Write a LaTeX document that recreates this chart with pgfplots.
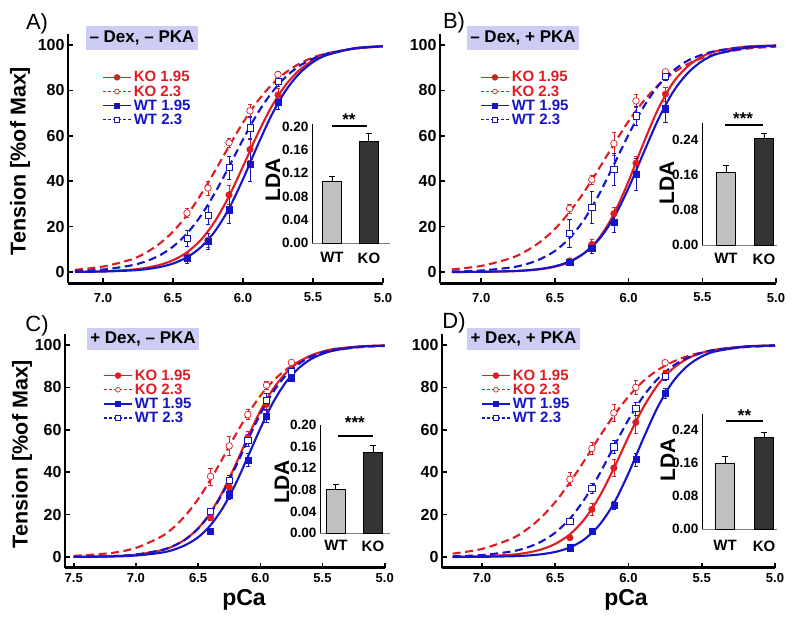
\documentclass[border=0pt]{standalone}
\usepackage{fontspec}
\setmainfont{Liberation Sans}
\usepackage{pgfplots}
\pgfplotsset{compat=1.18}
\definecolor{rr}{RGB}{222,28,36}
\definecolor{bb}{RGB}{20,20,200}
\definecolor{lav}{RGB}{204,204,245}
\definecolor{wtg}{RGB}{192,192,192}
\definecolor{kod}{RGB}{52,52,52}
\newcommand{\fs}[1]{\fontsize{#1}{#1}\selectfont}
\newcommand{\legfont}{\fontsize{15}{15}\selectfont\bfseries}
\pgfplotsset{
  /pgf/number format/assume math mode=true,
  mainax/.style={scale only axis, anchor=south west, x dir=reverse, xmin=5.0, ymin=-5, ymax=105,
    axis x line*=bottom, axis y line*=left, axis line style={line width=2.4pt, black},
    tick align=inside, major tick length=5pt, tick style={line width=1.6pt, black},
    ytick={0,20,40,60,80,100}, xtick={5,5.5,6,6.5,7,7.5},
    yticklabel style={font=\bfseries\fs{16}},
    xticklabel style={font=\bfseries\fs{13}, /pgf/number format/fixed, /pgf/number format/fixed zerofill, /pgf/number format/precision=1},
    legend cell align=left,
    legend image code/.code={\draw[mark repeat=2,mark phase=2] plot coordinates {(0pt,0pt)(14pt,0pt)(28pt,0pt)};},
    legend style={draw=none, fill=none, anchor=north west, font=\legfont, row sep=2.2pt, inner sep=0pt, nodes={inner ysep=0pt, inner xsep=2pt, font=\legfont}},
  },
  c1/.style={rr, line width=2.1pt, smooth, no markers, forget plot},
  c2/.style={rr, line width=2.1pt, smooth, no markers, forget plot, dash pattern=on 8pt off 4.5pt},
  c3/.style={bb, line width=2.1pt, smooth, no markers, forget plot},
  c4/.style={bb, line width=2.1pt, smooth, no markers, forget plot, dash pattern=on 8pt off 4.5pt},
  eb/.style={error bars/.cd, y dir=both, y explicit, error bar style={line width=0.7pt}, error mark options={rotate=90, mark size=2.2pt, line width=0.7pt}},
  p1/.style={rr, only marks, mark=*, mark size=3.3pt, mark options={fill=rr}, forget plot, eb},
  p2/.style={rr, only marks, mark=*, mark size=3.3pt, mark options={fill=white, line width=0.7pt}, forget plot, eb},
  p3/.style={bb, only marks, mark=square*, mark size=3.1pt, mark options={fill=bb}, forget plot, eb},
  p4/.style={bb, only marks, mark=square*, mark size=3.1pt, mark options={fill=white, line width=0.7pt}, forget plot, eb},
  l1/.style={rr, line width=1.6pt, mark=*, mark size=2.4pt, mark options={solid, fill=rr}},
  l2/.style={rr, line width=1.2pt, dash pattern=on 3pt off 2pt, mark=*, mark size=2.4pt, mark options={solid, fill=white, line width=0.7pt}},
  l3/.style={bb, line width=1.6pt, mark=square*, mark size=2.3pt, mark options={solid, fill=bb}},
  l4/.style={bb, line width=1.2pt, dash pattern=on 3pt off 2pt, mark=square*, mark size=2.3pt, mark options={solid, fill=white, line width=0.7pt}},
  inset/.style={scale only axis, anchor=south west, ymin=0, clip=false,
    axis x line*=bottom, axis y line*=left,
    x axis line style={line width=0.6pt, gray}, y axis line style={line width=0.9pt, black},
    major tick length=0pt, xtick={1,2}, xticklabels={WT,KO},
    xticklabel style={font=\bfseries\fs{15}},
    yticklabel style={font=\bfseries\fs{13.5}, /pgf/number format/fixed, /pgf/number format/fixed zerofill, /pgf/number format/precision=2}},
  wtbar/.style={ybar, bar width=19pt, bar shift=0pt, fill=wtg, draw=black, line width=0.6pt,
    error bars/.cd, y dir=plus, y explicit, error bar style={black, line width=0.9pt}, error mark options={rotate=90, mark size=3pt, black, line width=0.9pt}},
  kobar/.style={ybar, bar width=19pt, bar shift=0pt, fill=kod, draw=black, line width=0.6pt,
    error bars/.cd, y dir=plus, y explicit, error bar style={black, line width=0.9pt}, error mark options={rotate=90, mark size=3pt, black, line width=0.9pt}},
}
\newcommand{\mylegend}{%
  \addlegendimage{l1}\addlegendentry{\textcolor{rr}{\legfont KO 1.95}}
  \addlegendimage{l2}\addlegendentry{\textcolor{rr}{\legfont KO 2.3}}
  \addlegendimage{l3}\addlegendentry{\textcolor{bb}{\legfont WT 1.95}}
  \addlegendimage{l4}\addlegendentry{\textcolor{bb}{\legfont WT 2.3}}
}
\begin{document}
\begin{tikzpicture}
\path[use as bounding box] (0pt,0pt) rectangle (800pt,-625pt);

% ================= Panel A =================
\begin{axis}[mainax, at={(68pt,-283.4pt)}, width=315pt, height=249.7pt, xmax=7.25,
  xticklabel style={yshift=-6pt}, legend style={at={(0.108,0.85)}}]
\addplot[c1] coordinates {(7.2,0.11)(7.0,0.35)(6.8,1.03)(6.7,1.8)(6.6,3.07)(6.5,5.2)(6.4,8.7)(6.3,14.2)(6.2,22.4)(6.1,33.4)(6.0,46.5)(5.9,60.2)(5.8,72.4)(5.7,82.0)(5.6,88.8)(5.5,93.2)(5.4,96.0)(5.2,98.6)(5.0,99.5)};
\addplot[c2] coordinates {(7.2,1.0)(7.0,2.4)(6.8,5.5)(6.7,8.3)(6.6,12.3)(6.5,17.8)(6.4,25.1)(6.3,34.2)(6.2,44.6)(6.1,55.4)(6.0,65.8)(5.9,74.9)(5.8,82.2)(5.7,87.7)(5.6,91.7)(5.5,94.5)(5.4,96.4)(5.2,98.4)(5.0,99.4)};
\addplot[c3] coordinates {(7.2,0.07)(7.0,0.22)(6.8,0.69)(6.7,1.21)(6.6,2.14)(6.5,3.75)(6.4,6.5)(6.3,11.0)(6.2,18.0)(6.1,28.0)(6.0,40.9)(5.9,55.2)(5.8,68.6)(5.7,79.5)(5.6,87.3)(5.5,92.5)(5.4,95.6)(5.2,98.6)(5.0,99.5)};
\addplot[c4] coordinates {(7.2,0.43)(7.0,1.1)(6.8,2.9)(6.7,4.6)(6.6,7.2)(6.5,11.2)(6.4,17.0)(6.3,24.9)(6.2,34.9)(6.1,46.4)(6.0,58.4)(5.9,69.5)(5.8,78.6)(5.7,85.7)(5.6,90.7)(5.5,94.0)(5.4,96.2)(5.2,98.5)(5.0,99.4)};
\addplot[p1] coordinates {(6.4,7) +- (0,1.5) (6.25,14) +- (0,3) (6.1,34) +- (0,4) (5.95,54) +- (0,5) (5.75,78) +- (0,3)};
\addplot[p2] coordinates {(6.4,26) +- (0,2) (6.25,37) +- (0,3) (6.1,57) +- (0,2) (5.95,71) +- (0,3) (5.75,87) +- (0,1.5)};
\addplot[p3] coordinates {(6.4,6) +- (0,2) (6.25,13.7) +- (0,3.5) (6.1,27.5) +- (0,6) (5.95,47.5) +- (0,7.5) (5.75,75) +- (0,3.5)};
\addplot[p4] coordinates {(6.4,15) +- (0,3.5) (6.25,25) +- (0,4) (6.1,46) +- (0,5) (5.95,63.5) +- (0,5) (5.75,84) +- (0,2)};
\mylegend
\end{axis}
\begin{axis}[inset, at={(312pt,-243pt)}, width=78pt, height=119pt, xmin=0.46, xmax=2.57, ymax=0.205,
  ytick={0,0.04,0.08,0.12,0.16,0.2}, xticklabel style={yshift=-6pt}]
\addplot[wtbar] coordinates {(1,0.106) +- (0,0.008)};
\addplot[kobar] coordinates {(2,0.175) +- (0,0.013)};
\draw[line width=2.5pt] (axis cs:1.0,0.2017) -- (axis cs:1.946,0.2017);
\node[font=\bfseries\fs{17}] at (axis cs:1.46,0.212) {**};
\end{axis}

% ================= Panel B =================
\begin{axis}[mainax, at={(440pt,-283.4pt)}, width=336pt, height=249.7pt, xmax=7.28,
  xticklabel style={yshift=-6pt}, legend style={at={(0.119,0.85)}}]
\addplot[c1] coordinates {(7.2,0.02)(7.0,0.09)(6.8,0.32)(6.7,0.63)(6.6,1.22)(6.5,2.34)(6.4,4.47)(6.3,8.4)(6.2,15.0)(6.1,25.6)(6.0,40.1)(5.9,56.6)(5.8,71.8)(5.7,83.3)(5.6,90.6)(5.5,95.0)(5.4,97.4)(5.2,99.3)(5.0,99.8)};
\addplot[c2] coordinates {(7.2,1.17)(7.0,2.7)(6.8,6.1)(6.7,9.1)(6.6,13.3)(6.5,19.0)(6.4,26.5)(6.3,35.5)(6.2,45.7)(6.1,56.3)(6.0,66.5)(5.9,75.2)(5.8,82.3)(5.7,87.6)(5.6,91.6)(5.5,94.3)(5.4,96.2)(5.2,98.4)(5.0,99.3)};
\addplot[c3] coordinates {(7.2,0.03)(7.0,0.12)(6.8,0.41)(6.7,0.75)(6.6,1.39)(6.5,2.56)(6.4,4.66)(6.3,8.4)(6.2,14.5)(6.1,24.0)(6.0,37.1)(5.9,52.3)(5.8,67.1)(5.7,79.2)(5.6,87.6)(5.5,93.0)(5.4,96.1)(5.2,98.8)(5.0,99.7)};
\addplot[c4] coordinates {(7.2,0.23)(7.0,0.69)(6.8,2.0)(6.7,3.37)(6.6,5.7)(6.5,9.3)(6.4,15.0)(6.3,23.3)(6.2,34.3)(6.1,47.3)(6.0,60.6)(5.9,72.6)(5.8,82.0)(5.7,88.6)(5.6,93.1)(5.5,95.8)(5.4,97.5)(5.2,99.2)(5.0,99.7)};
\addplot[p1] coordinates {(6.4,4.9) +- (0,1) (6.25,12.2) +- (0,2) (6.1,25.7) +- (0,3) (5.95,48) +- (0,3) (5.75,78.4) +- (0,3)};
\addplot[p2] coordinates {(6.4,28) +- (0,2) (6.25,40.7) +- (0,2) (6.1,56.6) +- (0,5) (5.95,75.4) +- (0,3) (5.75,88.2) +- (0,1)};
\addplot[p3] coordinates {(6.4,4.4) +- (0,1) (6.25,10.6) +- (0,2.5) (6.1,22) +- (0,4.5) (5.95,43) +- (0,7) (5.75,72) +- (0,6)};
\addplot[p4] coordinates {(6.4,17) +- (0,6) (6.25,28.4) +- (0,7) (6.1,45.3) +- (0,7) (5.95,68.8) +- (0,4) (5.75,86.3) +- (0,2)};
\mylegend
\end{axis}
\begin{axis}[inset, at={(702pt,-245pt)}, width=74.9pt, height=122.5pt, xmin=0.37, xmax=2.34, ymax=0.28,
  ytick={0,0.08,0.16,0.24}, xticklabel style={yshift=-5pt}]
\addplot[wtbar] coordinates {(1,0.167) +- (0,0.014)};
\addplot[kobar] coordinates {(2,0.245) +- (0,0.011)};
\draw[line width=2.5pt] (axis cs:0.97,0.274) -- (axis cs:1.97,0.274);
\node[font=\bfseries\fs{17}] at (axis cs:1.45,0.288) {***};
\end{axis}

% ================= Panel C =================
\begin{axis}[mainax, at={(65pt,-567.6pt)}, width=319.7pt, height=233.2pt, xmax=7.57,
  xticklabel style={yshift=-2pt}, legend style={at={(0.119,0.85)}}]
\addplot[c1] coordinates {(7.5,0.08)(7.2,0.38)(7.0,1.1)(6.8,3.1)(6.7,5.1)(6.6,8.4)(6.5,13.5)(6.4,21.0)(6.3,31.1)(6.2,43.4)(6.1,56.6)(6.0,68.9)(5.9,79.0)(5.8,86.5)(5.7,91.6)(5.6,94.9)(5.5,96.9)(5.4,98.2)(5.2,99.35)(5.0,99.8)};
\addplot[c2] coordinates {(7.5,0.53)(7.2,1.87)(7.0,4.3)(6.8,9.5)(6.7,13.8)(6.6,19.7)(6.5,27.3)(6.4,36.5)(6.3,46.8)(6.2,57.5)(6.1,67.4)(6.0,76.0)(5.9,82.9)(5.8,88.1)(5.7,91.9)(5.6,94.6)(5.5,96.4)(5.4,97.6)(5.2,98.96)(5.0,99.55)};
\addplot[c3] coordinates {(7.5,0.05)(7.2,0.23)(7.0,0.69)(6.8,2.0)(6.7,3.37)(6.6,5.7)(6.5,9.3)(6.4,15.0)(6.3,23.3)(6.2,34.3)(6.1,47.3)(6.0,60.6)(5.9,72.6)(5.8,82.0)(5.7,88.6)(5.6,93.1)(5.5,95.8)(5.4,97.5)(5.2,99.2)(5.0,99.7)};
\addplot[c4] coordinates {(7.5,0.09)(7.2,0.41)(7.0,1.15)(6.8,3.2)(6.7,5.2)(6.6,8.4)(6.5,13.4)(6.4,20.6)(6.3,30.4)(6.2,42.3)(6.1,55.2)(6.0,67.4)(5.9,77.6)(5.8,85.3)(5.7,90.7)(5.6,94.3)(5.5,96.5)(5.4,97.9)(5.2,99.2)(5.0,99.7)};
\addplot[p1] coordinates {(6.4,18.6) +- (0,1.5) (6.25,33) +- (0,2) (6.1,56.4) +- (0,3) (5.95,72) +- (0,3) (5.75,86) +- (0,2)};
\addplot[p2] coordinates {(6.4,38) +- (0,4) (6.25,52.4) +- (0,4.5) (6.1,67.2) +- (0,2.5) (5.95,81) +- (0,2) (5.75,91.8) +- (0,1)};
\addplot[p3] coordinates {(6.4,12.1) +- (0,1) (6.25,29.4) +- (0,2) (6.1,45.7) +- (0,3) (5.95,66.6) +- (0,3) (5.75,84.6) +- (0,1.5)};
\addplot[p4] coordinates {(6.4,21.7) +- (0,1) (6.25,36.2) +- (0,2.5) (6.1,55) +- (0,3) (5.95,74) +- (0,3) (5.75,87.7) +- (0,1.5)};
\mylegend
\end{axis}
\begin{axis}[inset, at={(320pt,-533pt)}, width=70pt, height=108pt, xmin=0.57, xmax=2.46, ymax=0.20,
  ytick={0,0.04,0.08,0.12,0.16,0.2}, xticklabel style={yshift=-4pt}]
\addplot[wtbar] coordinates {(1,0.081) +- (0,0.009)};
\addplot[kobar] coordinates {(2,0.150) +- (0,0.012)};
\draw[line width=2.5pt] (axis cs:1.05,0.18) -- (axis cs:2.0,0.18);
\node[font=\bfseries\fs{17}] at (axis cs:1.51,0.205) {***};
\end{axis}

% ================= Panel D =================
\begin{axis}[mainax, at={(442pt,-567.6pt)}, width=333pt, height=233.2pt, xmax=7.273,
  xticklabel style={yshift=-2pt}, legend style={at={(0.117,0.85)}}]
\addplot[c1] coordinates {(7.2,0.1)(7.0,0.33)(6.8,1.08)(6.7,1.94)(6.6,3.48)(6.5,6.2)(6.4,10.7)(6.3,17.9)(6.2,28.3)(6.1,41.8)(6.0,56.7)(5.9,70.4)(5.8,81.2)(5.7,88.7)(5.6,93.5)(5.5,96.3)(5.4,97.9)(5.2,99.37)(5.0,99.8)};
\addplot[c2] coordinates {(7.2,1.6)(7.0,3.8)(6.8,8.6)(6.7,12.7)(6.6,18.4)(6.5,25.9)(6.4,35.2)(6.3,45.6)(6.2,56.5)(6.1,66.8)(6.0,75.7)(5.9,82.9)(5.8,88.2)(5.7,92.0)(5.6,94.7)(5.5,96.5)(5.4,97.7)(5.2,99.0)(5.0,99.6)};
\addplot[c3] coordinates {(7.2,0.02)(7.0,0.09)(6.8,0.34)(6.7,0.66)(6.6,1.26)(6.5,2.4)(6.4,4.5)(6.3,8.4)(6.2,15.0)(6.1,25.3)(6.0,39.5)(5.9,55.7)(5.8,70.8)(5.7,82.4)(5.6,90.0)(5.5,94.6)(5.4,97.1)(5.2,99.2)(5.0,99.8)};
\addplot[c4] coordinates {(7.2,0.32)(7.0,0.92)(6.8,2.6)(6.7,4.3)(6.6,7.1)(6.5,11.5)(6.4,18.1)(6.3,27.3)(6.2,38.9)(6.1,52.0)(6.0,64.8)(5.9,75.7)(5.8,84.1)(5.7,90.0)(5.6,93.9)(5.5,96.3)(5.4,97.8)(5.2,99.2)(5.0,99.7)};
\addplot[p1] coordinates {(6.4,9.1) +- (0,1) (6.25,22.5) +- (0,3) (6.1,42) +- (0,4) (5.95,63.5) +- (0,5) (5.75,86) +- (0,2)};
\addplot[p2] coordinates {(6.4,36.7) +- (0,3) (6.25,51.2) +- (0,3) (6.1,68) +- (0,4) (5.95,80) +- (0,3.5) (5.75,91.7) +- (0,1)};
\addplot[p3] coordinates {(6.4,4.4) +- (0,1) (6.25,12.1) +- (0,1) (6.1,24.4) +- (0,2) (5.95,46) +- (0,3) (5.75,77.2) +- (0,2.5)};
\addplot[p4] coordinates {(6.4,16.9) +- (0,1) (6.25,32.3) +- (0,2.5) (6.1,52) +- (0,3) (5.95,70) +- (0,3) (5.75,85.4) +- (0,2)};
\mylegend
\end{axis}
\begin{axis}[inset, at={(702pt,-529pt)}, width=75pt, height=115.5pt, xmin=0.41, xmax=2.33, ymax=0.28,
  ytick={0,0.08,0.16,0.24}, xticklabel style={yshift=-8pt}]
\addplot[wtbar] coordinates {(1,0.160) +- (0,0.015)};
\addplot[kobar] coordinates {(2,0.223) +- (0,0.012)};
\draw[line width=2.5pt] (axis cs:1.03,0.262) -- (axis cs:1.97,0.262);
\node[font=\bfseries\fs{17}] at (axis cs:1.5,0.276) {**};
\end{axis}

% ================= Annotations =================
\node[font=\fs{22}] at (37pt,-24pt) {A)};
\node[font=\fs{22}] at (454pt,-23pt) {B)};
\node[font=\fs{22}] at (37pt,-326pt) {C)};
\node[font=\fs{22}] at (454pt,-323pt) {D)};
\node[fill=lav, font=\bfseries\fs{17}, inner xsep=3.5pt, minimum height=24pt] at (142pt,-38pt) {-- Dex, -- PKA};
\node[fill=lav, font=\bfseries\fs{17}, inner xsep=3.5pt, minimum height=24pt] at (523pt,-38pt) {-- Dex, + PKA};
\node[fill=lav, font=\bfseries\fs{17}, inner xsep=3.5pt, minimum height=22pt] at (143pt,-339pt) {+ Dex, -- PKA};
\node[fill=lav, font=\bfseries\fs{17}, inner xsep=3.5pt, minimum height=22pt] at (523.5pt,-339pt) {+ Dex, + PKA};
\node[rotate=90, font=\bfseries\fs{21.5}] at (20pt,-161pt) {Tension [\%of Max]};
\node[rotate=90, font=\bfseries\fs{21.5}] at (22pt,-454pt) {Tension [\%of Max]};
\node[font=\bfseries\fs{23}] at (244pt,-600pt) {pCa};
\node[font=\bfseries\fs{23}] at (626pt,-600pt) {pCa};
\node[rotate=90, font=\bfseries\fs{21}] at (273pt,-180pt) {LDA};
\node[rotate=90, font=\bfseries\fs{21}] at (667pt,-183pt) {LDA};
\node[rotate=90, font=\bfseries\fs{21}] at (282pt,-482pt) {LDA};
\node[rotate=90, font=\bfseries\fs{21}] at (668pt,-460pt) {LDA};
\end{tikzpicture}
\end{document}
